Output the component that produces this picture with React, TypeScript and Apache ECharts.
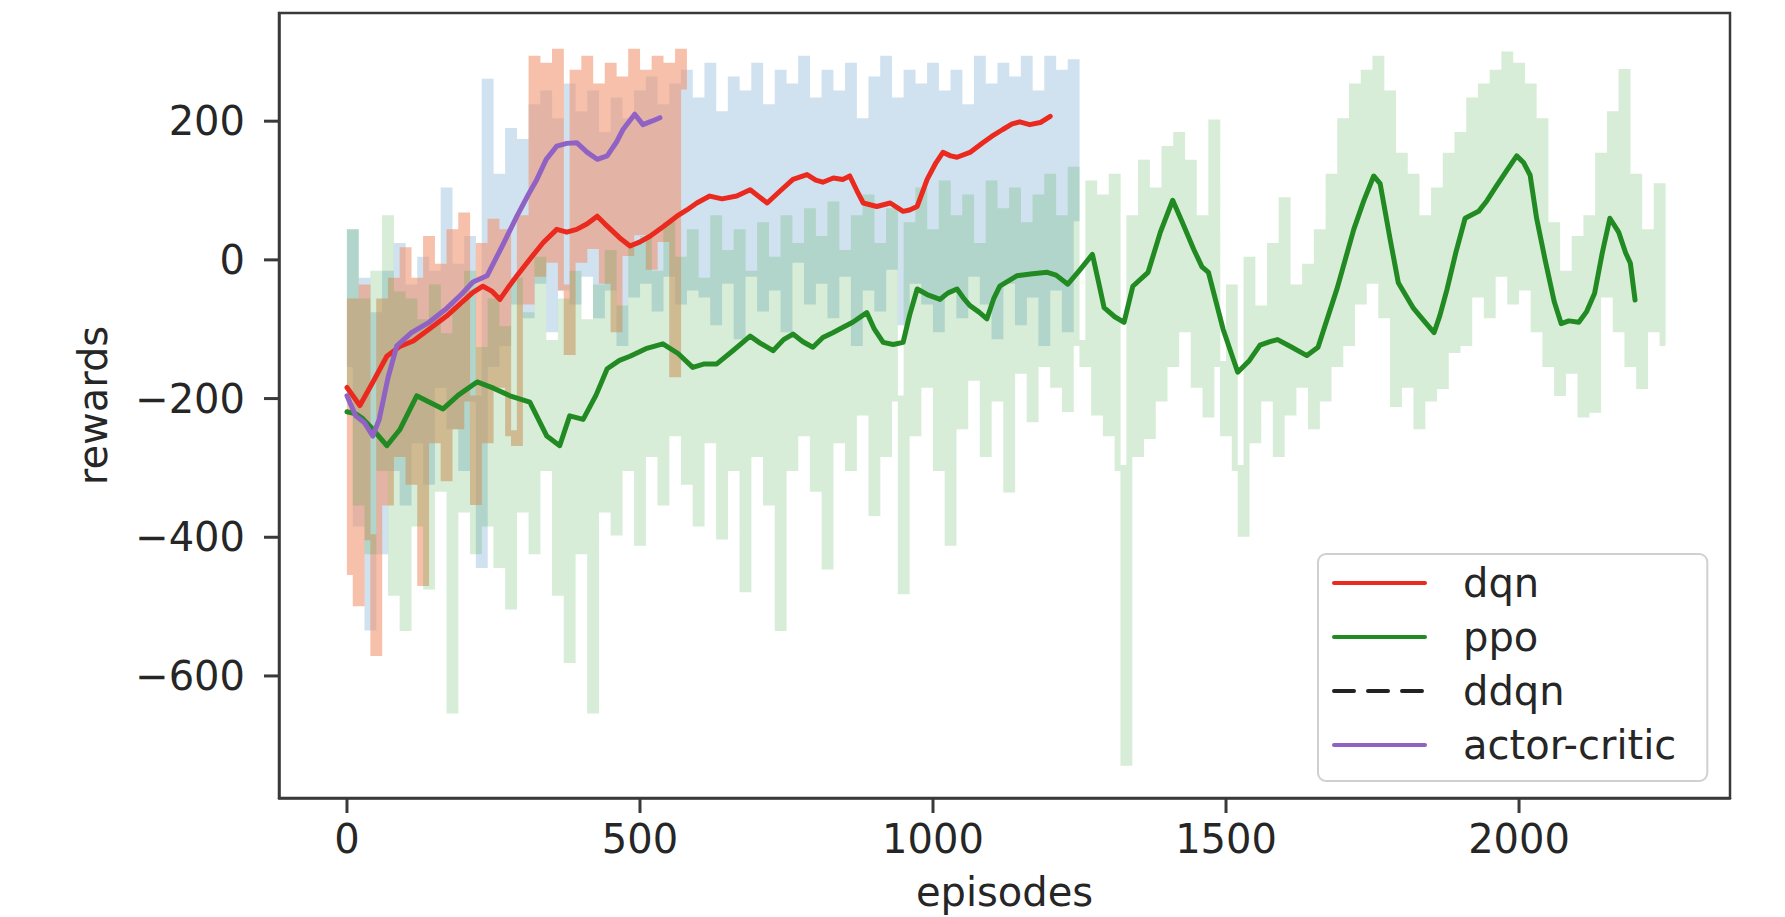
import React, { useEffect, useRef } from "react";
import * as echarts from "echarts";

const FONT = "'DejaVu Sans', 'Liberation Sans', sans-serif";
const TEXT_COLOR = "#262626";
const FRAME_COLOR = "#3a3a3a";

// raw episode rewards, one value every RAW_STEP episodes
const RAW_STEP = 10;

const dqnRaw = [
  -150, 40, -380, -30, -530, -80, -420, -20, -300, 20, -350,
  -40, -260, 0, -320, -20, -180, 100, -240, -10, -300, 30, -200, -440, 257, -150,
  120, -120, 186, -60, 170, -80, 220, -30, 240, -100, 200, -40, 250, -60, 210, -20, 240, -80,
  180, -40, 230, -120, 200, -50, 240, -30, 260, -70, 220, -20, 250, -60, 270, -40,
  230, -50, 280, -90, 210, -30, 260, -110, 240, -20, 280, -70, 220, -40, 270, -100, 250, 0,
  290, -60, 230, -30, 270, -80, 240, -20, 280, -120, 200, -40, 260, -70, 290, -10, 230, -90,
  270, -30, 250, -60, 280, -100, 240, -40, 270, -80, 220, -20, 290, -60, 250, -110, 280, -30,
  260, -90, 290, -50, 240, -120, 290, -40, 270, -100, 285, 60,
];

const ppoRaw = [
  -200, 40, -350, -60, -420, -20, -300, 60, -480, -50,
  -531, -60, -380, -90, -471, -40, -330, -110, -650, -70, -360, -20, -420, -130, -380, -60,
  -440, -100, -500, -30,
  -360, -80, -420, 0, -300, -120, -480, -60, -577, -20, -420, -90, -650, -40, -360, 10,
  -393, -70, -300, 20,
  -408, 30, -280, -20, -350, 50, -250, 0, -320, 40, -380, -30, -260, 60, -399, 10, -300, 40,
  -475, -20, -280, 50, -350, 0, -531, 60, -300, 20, -250, 70,
  -330, 30, -442, 80, -260, 10, -300, 60, -220, 90, -365, 20, -280, 70, -200, -478, 50, -250,
  100, -180, 40, -300, 110, -408, 60, -240, 90, -170, 20, -280, 110, -200, 70, -331, 100,
  -160, 50, -230, 90, -150, 120, -180, 60, -215, 130, -120,
  -150, 110, -220, 90, -250, 120, -300, -725, 60, -280, 140, -254, 100, -200, 160, -150, 180,
  -100, 140, -180, 60, -223, 198, -150,
  -250, -40, -300, -395, 0, -260, -70, -200, 20, -280, 86, -220, -40, -180, -10, -240, 40, -200,
  120, -150, 200, -120, 250, -60, 270, -30, 290, -80, 240, -208, 150,
  -180, 120, -240, 60, -200, 100, -182, 150, -130,
  180, -120, 230, -50, 250, -80, 270, -20, 296, -60, 280, -40, 250, -100, 200,
  -150, 50, -192, -20, -160, 30, -223, 60, -216, 150, -50, 210, -100, 271, -150, 120, -182, 40,
  -100, 106, -120,
];

const acRaw = [
  -450, -60, -495, -40, -400, -567, -60, -350, -30,
  -280, 14, -320, -30, -466, 30, -260, -10, -315, 40, -240, 64, -200, -349, 20, -260, 55, -180,
  40, -250, -264, 60,
  -60, 290, -20, 280, 0, 300, -40, -133, 270, 0, 290, 20, 250, -30, 280, -100, 260, 10, 300, 40,
  270, -10, 290, 30, 280, -165, 300, 250,
];

// smoothed (moving average) curves
const dqnEp = [
  0, 22, 45, 68, 90, 113, 140, 170, 195, 215, 232, 247, 261, 275, 290, 312, 335, 358, 375, 392,
  410, 427, 440, 450, 465, 483, 500, 517, 540, 563, 580, 597, 619, 640, 665, 688, 705, 717, 740,
  761, 785, 800, 812, 830, 846, 858, 870, 881, 904, 927, 949, 960, 973, 990, 1005, 1017, 1030,
  1041, 1063, 1085, 1100, 1119, 1135, 1148, 1165, 1183, 1200,
];
const dqnSmooth = [
  -184, -210, -175, -139, -125, -117, -100, -81, -62, -47, -38, -45, -57, -40, -23, 1, 25, 44, 40,
  44, 52, 63, 52, 44, 32, 20, 26, 34, 48, 63, 72, 82, 92, 88, 92, 101, 90, 82, 100, 116, 123, 115,
  112, 118, 116, 121, 100, 82, 77, 82, 70, 72, 77, 116, 140, 155, 150, 148, 155, 169, 178, 188,
  196, 199, 195, 198, 207,
];

const ppoEp = [
  0, 15, 27, 45, 68, 90, 119, 140, 164, 190, 222, 250, 278, 312, 341, 363, 380, 403, 425, 444,
  465, 483, 510, 539, 565, 590, 610, 631, 660, 688, 705, 727, 745, 761, 778, 795, 812, 829, 845,
  863, 887, 900, 915, 932, 949, 960, 973, 990, 1012, 1025, 1041, 1052, 1063, 1078, 1092, 1104,
  1114, 1143, 1170, 1195, 1210, 1230, 1250, 1272, 1282, 1292, 1310, 1326, 1341, 1367, 1388, 1409,
  1425, 1445, 1459, 1470, 1495, 1520, 1540, 1558, 1575, 1588, 1610, 1638, 1657, 1690, 1718, 1735,
  1752, 1763, 1780, 1794, 1820, 1840, 1855, 1865, 1877, 1892, 1908, 1931, 1945, 1961, 1980, 1996,
  2008, 2019, 2030, 2045, 2060, 2072, 2085, 2102, 2115, 2129, 2142, 2155, 2170, 2182, 2190, 2198,
];
const ppoSmooth = [
  -219, -222, -229, -245, -268, -245, -196, -205, -215, -195, -176, -185, -196, -205, -254, -268,
  -225, -230, -195, -157, -145, -139, -128, -121, -135, -155, -150, -150, -130, -110, -120, -131,
  -115, -107, -118, -126, -112, -105, -98, -90, -76, -100, -119, -122, -119, -80, -42, -50, -57,
  -48, -42, -55, -66, -75, -85, -55, -38, -23, -20, -18, -22, -35, -15, 8, -30, -69, -82, -90, -38,
  -18, 40, 86, 55, 15, -10, -18, -100, -162, -145, -123, -118, -115, -125, -138, -126, -40, 44, 85,
  121, 110, 30, -33, -70, -90, -105, -80, -43, 10, 60, 70, 85, 106, 130, 150, 140, 122, 60, -2, -60,
  -92, -88, -90, -75, -48, 10, 60, 40, 10, -5, -58,
];

const acEp = [
  0, 15, 30, 44, 55, 70, 85, 110, 140, 170, 195, 215, 239, 265, 290, 310, 324, 340, 358, 375, 392,
  410, 427, 444, 460, 471, 491, 505, 520, 534,
];
const acSmooth = [
  -196, -225, -235, -254, -230, -170, -124, -105, -90, -70, -50, -32, -23, 20, 63, 95, 116, 145,
  164, 168, 169, 155, 145, 150, 170, 188, 210, 195, 200, 205,
];

const ddqnEp: number[] = [];
const ddqnSmooth: number[] = [];

const legendNames = ["dqn", "ppo", "ddqn", "actor-critic"];
const xTicks = [0, 500, 1000, 1500, 2000];
const yTicks = [-600, -400, -200, 0, 200];
const xRange = [-116, 2360];
const yRange = [-776, 356];
const TICK_LEN = 15;

const rawPoints = (values: number[]) => values.map((v, i) => [i * RAW_STEP, v]);
const pairPoints = (xs: number[], ys: number[]) => xs.map((x, i) => [x, ys[i]]);
const fmt = (v: number) => (v < 0 ? "\u2212" + Math.abs(v) : String(v));

export default function App() {
  const ref = useRef<HTMLDivElement>(null);

  useEffect(() => {
    const chart = echarts.init(ref.current!, null, { renderer: "svg" });

    const raw = (name: string, values: number[], color: string, opacity: number, z: number) => ({
      name,
      type: "line",
      step: "middle",
      data: rawPoints(values),
      symbol: "none",
      silent: true,
      z,
      itemStyle: { color },
      lineStyle: { color, width: 6, opacity, join: "miter" },
    });
    const smooth = (name: string, xs: number[], ys: number[], color: string, z: number, dashed = false) => ({
      name,
      type: "line",
      data: pairPoints(xs, ys),
      symbol: "none",
      silent: true,
      z,
      itemStyle: { color },
      lineStyle: { color, width: 5, type: dashed ? [20, 14] : "solid", join: "round", cap: "round" },
    });

    const axisCommon = {
      type: "value",
      splitLine: { show: false },
      axisLine: { show: true, onZero: false, lineStyle: { color: FRAME_COLOR, width: 2.5 } },
      axisTick: { show: false },
      nameTextStyle: { fontFamily: FONT, fontSize: 40, color: TEXT_COLOR },
    };

    chart.setOption({
      animation: false,
      backgroundColor: "#ffffff",
      grid: {
        left: 279,
        top: 13,
        width: 1451,
        height: 787,
        show: true,
        borderColor: FRAME_COLOR,
        borderWidth: 2.5,
        backgroundColor: "transparent",
      },
      xAxis: {
        ...axisCommon,
        min: xRange[0],
        max: xRange[1],
        name: "episodes",
        nameLocation: "middle",
        nameGap: 74,
        axisLabel: {
          customValues: xTicks,
          margin: 21,
          fontFamily: FONT,
          fontSize: 40,
          color: TEXT_COLOR,
          formatter: fmt,
        },
      },
      yAxis: {
        ...axisCommon,
        min: yRange[0],
        max: yRange[1],
        name: "rewards",
        nameLocation: "middle",
        nameGap: 166,
        axisLabel: {
          customValues: yTicks,
          margin: 34,
          fontFamily: FONT,
          fontSize: 40,
          color: TEXT_COLOR,
          formatter: fmt,
        },
      },
      legend: {
        data: legendNames,
        orient: "vertical",
        left: 1318,
        top: 554,
        padding: [9, 31, 16, 14],
        itemWidth: 91,
        itemHeight: 2,
        itemGap: 14,
        backgroundColor: "rgba(255,255,255,0.85)",
        borderColor: "#d0d0d0",
        borderWidth: 2,
        borderRadius: 8,
        selectedMode: false,
        itemStyle: { color: "transparent", borderColor: "transparent", borderWidth: 0 },
        lineStyle: { width: 4 },
        textStyle: {
          fontFamily: FONT,
          fontSize: 40,
          lineHeight: 40,
          color: TEXT_COLOR,
          padding: [0, 0, 0, 33],
        },
      },
      series: [
        raw("dqn raw", dqnRaw, "#1f77b4", 0.21, 1),
        raw("actor-critic raw", acRaw, "#f09673", 0.6, 2),
        raw("ppo raw", ppoRaw, "#2ca02c", 0.19, 3),
        smooth("ppo", ppoEp, ppoSmooth, "#228a22", 10),
        smooth("dqn", dqnEp, dqnSmooth, "#ea2a1e", 11),
        smooth("ddqn", ddqnEp, ddqnSmooth, "#222222", 12, true),
        smooth("actor-critic", acEp, acSmooth, "#9062c4", 13),
      ],
    });

    // outward tick marks, positioned through the chart's own axis scales
    const tickElements: any[] = [];
    xTicks.forEach((v) => {
      const p = chart.convertToPixel({ gridIndex: 0 }, [v, yRange[0]]) as number[];
      tickElements.push({
        type: "line",
        silent: true,
        z: 50,
        shape: { x1: p[0], y1: p[1], x2: p[0], y2: p[1] + TICK_LEN },
        style: { stroke: FRAME_COLOR, lineWidth: 3 },
      });
    });
    yTicks.forEach((v) => {
      const p = chart.convertToPixel({ gridIndex: 0 }, [xRange[0], v]) as number[];
      tickElements.push({
        type: "line",
        silent: true,
        z: 50,
        shape: { x1: p[0] - TICK_LEN, y1: p[1], x2: p[0], y2: p[1] },
        style: { stroke: FRAME_COLOR, lineWidth: 3 },
      });
    });
    chart.setOption({ graphic: { elements: tickElements } });

    return () => chart.dispose();
  }, []);

  return (
    <div
      ref={ref}
      style={{ position: "fixed", left: 0, top: 0, width: 1785, height: 917, background: "#ffffff" }}
    />
  );
}
